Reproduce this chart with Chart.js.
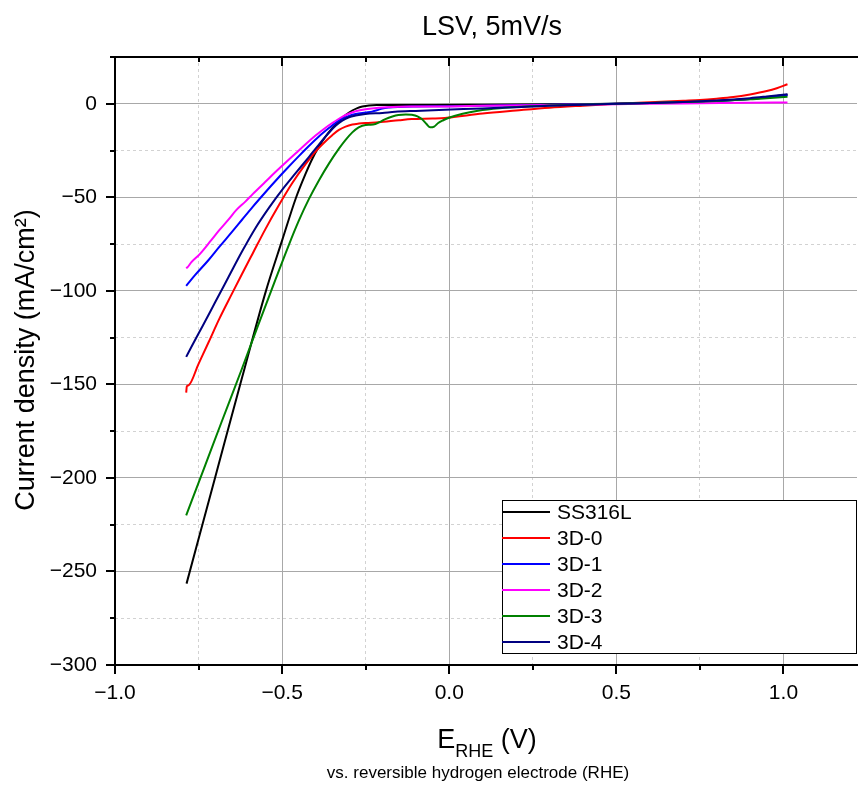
<!DOCTYPE html>
<html>
<head>
<meta charset="utf-8">
<script src="https://cdn.jsdelivr.net/npm/chart.js@4.4.0/dist/chart.umd.min.js"></script>
<style>
html,body{margin:0;padding:0;background:#fff;}
</style>
</head>
<body>
<canvas id="myChart" width="858" height="785"></canvas>
<script>
// potential vs RHE (V) and current density (mA/cm2)
var ss316lE = [-0.786,-0.70,-0.62,-0.549,-0.499,-0.459,-0.43,-0.41,-0.39,-0.37,-0.35,-0.33,-0.31,-0.29,-0.275,-0.26,-0.24,-0.21,-0.15,-0.05,0.1,0.3,0.5,0.65,0.8,0.9,0.95,1.012];
var ss316lJ = [-256.5,-199.5,-146.5,-100.4,-72.5,-50.5,-37.5,-29.5,-23,-17.5,-13,-9.3,-6,-3.6,-2.3,-1.5,-0.9,-0.7,-0.6,-0.6,-0.5,-0.3,0,0.6,1.5,2.6,3.5,4.8];

var d0E = [-0.787,-0.785,-0.78,-0.75,-0.72,-0.688,-0.65,-0.62,-0.588,-0.55,-0.509,-0.47,-0.43,-0.40,-0.37,-0.35,-0.33,-0.31,-0.29,-0.27,-0.25,-0.211,-0.15,-0.112,-0.05,-0.013,0.1,0.2,0.3,0.4,0.5,0.6,0.7,0.75,0.8,0.85,0.9,0.95,0.98,1.012];
var d0J = [-154.4,-151,-150.5,-139,-127.5,-115,-101.5,-91,-80,-67,-54,-42.5,-32.3,-25.5,-20,-16.8,-14,-12.2,-11.1,-10.6,-10.3,-9.9,-8.8,-8.2,-7.9,-7.6,-5.2,-3.6,-2.1,-1,0,0.8,1.6,2.0,2.7,3.6,5.0,6.8,8.3,10.4];

var d1E = [-0.787,-0.76,-0.72,-0.688,-0.65,-0.62,-0.588,-0.55,-0.52,-0.489,-0.45,-0.42,-0.39,-0.36,-0.34,-0.32,-0.3,-0.28,-0.25,-0.231,-0.215,-0.2,-0.18,-0.15,-0.1,0,0.1,0.3,0.5,0.7,0.8,0.9,0.95,1.012];
var d1J = [-97.3,-91.5,-83.5,-76.5,-68.5,-62,-55.1,-47.3,-41.3,-35.3,-28,-22.6,-17.5,-13,-10.2,-8,-6.5,-5.5,-4.7,-4.2,-3.4,-2.5,-2.0,-1.7,-1.5,-1.3,-1.0,-0.5,0,0.8,1.5,2.6,3.4,4.6];

var d2E = [-0.787,-0.782,-0.772,-0.747,-0.712,-0.688,-0.66,-0.638,-0.61,-0.588,-0.55,-0.52,-0.499,-0.46,-0.429,-0.4,-0.37,-0.35,-0.33,-0.31,-0.28,-0.25,-0.211,-0.15,-0.1,0,0.1,0.3,0.5,0.7,0.9,1.012];
var d2J = [-87.9,-87.2,-84.8,-80.5,-72.9,-67.6,-61.8,-57,-52.3,-48.3,-41.7,-36.5,-33,-26.6,-21.5,-17,-12.8,-10.3,-8,-6,-4,-2.9,-2.1,-1.6,-1.5,-1.4,-1.1,-0.6,-0.2,0.2,0.5,0.7];

var d3E = [-0.787,-0.737,-0.682,-0.62,-0.573,-0.52,-0.48,-0.45,-0.42,-0.39,-0.36,-0.33,-0.31,-0.29,-0.271,-0.25,-0.235,-0.221,-0.205,-0.191,-0.17,-0.152,-0.13,-0.112,-0.095,-0.082,-0.068,-0.057,-0.045,-0.033,-0.018,-0.003,0.04,0.086,0.15,0.25,0.35,0.5,0.6,0.7,0.8,0.9,0.95,1.012];
var d3J = [-220,-196.5,-170.5,-141.5,-119,-94,-75.5,-62.5,-51,-41,-32,-24,-19.3,-15.3,-12.6,-11.3,-11.2,-10.8,-9.5,-8.2,-6.8,-6.0,-5.7,-5.9,-6.7,-8.2,-10.8,-12.6,-12.2,-10.3,-8.8,-7.6,-5.3,-3.7,-2.4,-1.3,-0.6,0,0.4,0.9,1.5,2.4,2.9,3.7];

var d4E = [-0.787,-0.77,-0.737,-0.7,-0.66,-0.62,-0.58,-0.539,-0.5,-0.459,-0.42,-0.39,-0.36,-0.34,-0.32,-0.3,-0.28,-0.251,-0.2,-0.162,-0.1,-0.013,0.1,0.2,0.3,0.4,0.5,0.6,0.7,0.8,0.9,0.95,1.012];
var d4J = [-135.3,-129.5,-118.5,-106,-92.5,-79,-66.5,-55.5,-46,-37,-28.5,-21.8,-15.5,-11.8,-9,-7.2,-6.3,-5.5,-4.9,-4.3,-3.8,-3.2,-2.5,-1.8,-1.1,-0.5,0,0.4,0.9,1.7,3.0,3.9,5.1];

var labels = ["SS316L","3D-0","3D-1","3D-2","3D-3","3D-4"];
var colors = ["#000000","#ff0000","#0000ff","#ff00ff","#008000","#000080"];
var xSeries = [ss316lE, d0E, d1E, d2E, d3E, d4E];
var ySeries = [ss316lJ, d0J, d1J, d2J, d3J, d4J];

var FONT = '"Liberation Sans", Arial, sans-serif';

function isMajor(v, step){ var r = v/step; return Math.abs(r - Math.round(r)) < 1e-6; }
function minus(s){ return String(s).replace('-', '\u2212'); }

var datasets = labels.map(function(name, i){
  return {
    label: name,
    data: xSeries[i].map(function(x, k){ return {x: x, y: ySeries[i][k]}; }),
    borderColor: colors[i],
    backgroundColor: colors[i],
    borderWidth: 2,
    pointRadius: 0,
    cubicInterpolationMode: 'monotone',
    order: labels.length - i // later series drawn on top, like the original
  };
});

// frame, ticks, titles and legend drawn on top
var framePlugin = {
  id: 'frame',
  afterDraw: function(chart){
    var c = chart.ctx, a = chart.chartArea, xs = chart.scales.x, ys = chart.scales.y;
    c.save();
    c.strokeStyle = '#000';
    c.lineWidth = 2;
    c.beginPath();
    c.moveTo(a.left, a.top); c.lineTo(a.right + 1, a.top);
    c.moveTo(a.left, a.top - 1); c.lineTo(a.left, a.bottom + 1);
    c.moveTo(a.left - 1, a.bottom); c.lineTo(a.right + 1, a.bottom);
    c.stroke();

    c.beginPath();
    xs.ticks.forEach(function(t){
      var px = Math.round(xs.getPixelForValue(t.value));
      var len = isMajor(t.value, 0.5) ? 9 : 5;
      c.moveTo(px, a.bottom); c.lineTo(px, a.bottom + len);
      c.moveTo(px, a.top); c.lineTo(px, a.top + len);
    });
    ys.ticks.forEach(function(t){
      var py = Math.round(ys.getPixelForValue(t.value));
      var len = isMajor(t.value, 50) ? 9 : 5;
      c.moveTo(a.left - len, py); c.lineTo(a.left, py);
    });
    c.stroke();

    // chart title
    c.fillStyle = '#000';
    c.textAlign = 'center';
    c.textBaseline = 'alphabetic';
    c.font = '27px ' + FONT;
    c.fillText('LSV, 5mV/s', 492, 35);

    // y title
    c.save();
    c.translate(34, 360);
    c.rotate(-Math.PI / 2);
    c.fillText('Current density (mA/cm\u00B2)', 0, 0);
    c.restore();

    // x title with subscript
    var big = '27px ' + FONT, small = '18px ' + FONT;
    c.font = big;
    var wE = c.measureText('E').width, wV = c.measureText(' (V)').width;
    c.font = small;
    var wS = c.measureText('RHE').width;
    var x0 = 487 - (wE + wS + wV) / 2;
    c.textAlign = 'left';
    c.font = big; c.fillText('E', x0, 748);
    c.font = small; c.fillText('RHE', x0 + wE, 757);
    c.font = big; c.fillText(' (V)', x0 + wE + wS, 748);

    c.textAlign = 'center';
    c.font = '17px ' + FONT;
    c.fillText('vs. reversible hydrogen electrode (RHE)', 478, 778);

    // legend box
    var lx = 502, ly = 500, lw = a.right - lx, lh = 154;
    c.fillStyle = '#fff';
    c.fillRect(lx, ly, lw, lh);
    c.strokeStyle = '#000';
    c.lineWidth = 1;
    c.strokeRect(lx + 0.5, ly + 0.5, lw - 1, lh - 1);
    c.font = '21px ' + FONT;
    c.textAlign = 'left';
    c.textBaseline = 'middle';
    chart.data.datasets.forEach(function(d, i){
      var y = Math.round(512 + i * 26);
      c.strokeStyle = d.borderColor;
      c.lineWidth = 2;
      c.beginPath(); c.moveTo(lx, y); c.lineTo(lx + 48, y); c.stroke();
      c.fillStyle = '#000';
      c.fillText(d.label, lx + 55, y + 1);
    });
    c.restore();
  }
};

var ctx = document.getElementById('myChart').getContext('2d');
var chart = new Chart(ctx, {
  type: 'line',
  data: { datasets: datasets },
  options: {
    responsive: false,
    animation: false,
    layout: { padding: { top: 57, right: 1, left: 0, bottom: 0 } },
    plugins: { legend: { display: false }, title: { display: false }, tooltip: { enabled: false } },
    scales: {
      x: {
        type: 'linear',
        min: -1, max: 1.22,
        afterFit: function(s){ s.height = 120; },
        ticks: {
          stepSize: 0.25, includeBounds: false, autoSkip: false, maxRotation: 0,
          padding: 16, color: '#000', font: { family: FONT, size: 21 },
          callback: function(v){ return isMajor(v, 0.5) ? minus(v.toFixed(1)) : ''; }
        },
        grid: {
          drawTicks: false, lineWidth: 1,
          color: function(c){ return c.tick && isMajor(c.tick.value, 0.5) ? '#a8a8a8' : '#d2d2d2'; }
        },
        border: {
          display: false,
          dash: function(c){ return c.tick && isMajor(c.tick.value, 0.5) ? [] : [3, 3]; }
        }
      },
      y: {
        type: 'linear',
        min: -300, max: 25,
        afterFit: function(s){ s.width = 115; },
        ticks: {
          stepSize: 25, includeBounds: false, autoSkip: false,
          padding: 18, color: '#000', font: { family: FONT, size: 21 },
          callback: function(v){ return isMajor(v, 50) ? minus(v) : ''; }
        },
        grid: {
          drawTicks: false, lineWidth: 1,
          color: function(c){ return c.tick && isMajor(c.tick.value, 50) ? '#a8a8a8' : '#d2d2d2'; }
        },
        border: {
          display: false,
          dash: function(c){ return c.tick && isMajor(c.tick.value, 50) ? [] : [3, 3]; }
        }
      }
    }
  },
  plugins: [framePlugin]
});
</script>
</body>
</html>
